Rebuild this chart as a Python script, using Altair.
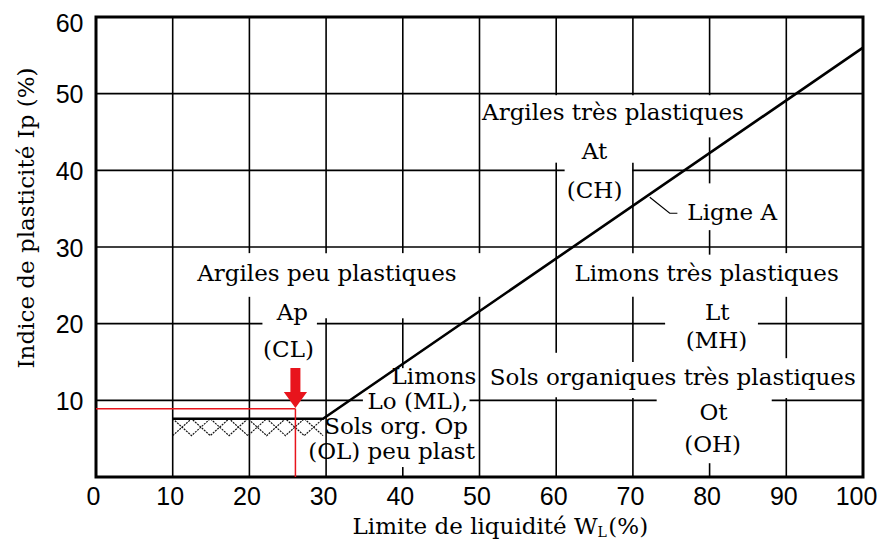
import altair as alt
import pandas as pd

# ---------------- data ----------------
# Ligne A : plateau then slope
lineA_wl = [10.0, 29.6, 100.0]
lineA_ip = [7.6, 7.6, 56.0]

# hatched band under the plateau
hatch_wl = [10.0, 29.6]
hatch_ip = [5.4, 7.6]
hatch_count = 8

# red sample point and arrow
sample_wl = [26.0]
sample_ip = [8.9]
arrow_ip = [11.6]

# leader line to the "Ligne A" label
leader_wl = [72.2, 74.8, 75.8]
leader_ip = [36.5, 34.4, 34.4]

# centred zone labels
center_text = ["Argiles très plastiques", "At", "(CH)",
               "Argiles peu plastiques", "Ap", "(CL)",
               "Limons très plastiques", "Lt", "(MH)",
               "Sols organiques très plastiques", "Ot", "(OH)"]
center_wl = [67.4, 65.0, 65.0, 30.1, 25.6, 25.1, 79.6, 81.0, 80.9, 75.2, 80.5, 80.4]
center_ip = [47.5, 42.4, 37.3, 26.5, 21.4, 16.6, 26.5, 21.4, 17.7, 12.9, 8.3, 4.2]

# right-aligned labels (low plasticity silts)
right_text = ["Limons", "Lo (ML),", "Sols org. Op", "(OL) peu plast"]
right_wl = [49.6, 48.5, 48.5, 49.4]
right_ip = [13.0, 9.8, 6.5, 3.3]

# left-aligned label
left_text = ["Ligne A"]
left_wl = [77.1]
left_ip = [34.4]

# grid segments: vertical (wl, ip_from, ip_to) and horizontal (ip, wl_from, wl_to)
v_grid = [(10, 0, 60),
          (20, 29.2, 60), (20, 0, 23.5),
          (30, 29.2, 60), (30, 0, 20.7),
          (40, 29.2, 60), (40, 14.2, 20.7), (40, 0, 1.3),
          (50, 29.2, 60), (50, 0, 23.5),
          (60, 49.8, 60), (60, 16.2, 41.0), (60, 0, 10.4),
          (70, 49.8, 60), (70, 29.2, 41.0), (70, 15.0, 23.5), (70, 0, 10.3),
          (80, 49.8, 60), (80, 38.3, 44.3), (80, 29.0, 32.2), (80, 0, 1.8),
          (90, 29.2, 60), (90, 15.5, 23.5), (90, 0, 10.3)]
h_grid = [(50, 0, 100),
          (40, 0, 61.1), (40, 69.9, 100),
          (30, 0, 100),
          (20, 0, 21.7), (20, 28.8, 74.2), (20, 86.3, 100),
          (10, 0, 34.8), (10, 48.7, 73.1), (10, 88.1, 100)]

x_ticks = list(range(0, 101, 10))
y_ticks = list(range(10, 61, 10))

# axis titles (x title has a subscript L)
xtitle_main = "Limite de liquidité W"
xtitle_sub = "L"
xtitle_end = "(%)"
ytitle = "Indice de plasticité Ip (%)"

# ---------------- tables ----------------
grid_df = pd.DataFrame(
    [dict(x1=v, x2=v, y1=a, y2=b) for v, a, b in v_grid] +
    [dict(x1=a, x2=b, y1=v, y2=v) for v, a, b in h_grid])

lineA_df = pd.DataFrame(dict(wl=lineA_wl, ip=lineA_ip, o=range(len(lineA_wl))))
leader_df = pd.DataFrame(dict(wl=leader_wl, ip=leader_ip, o=range(len(leader_wl))))

step = (hatch_wl[1] - hatch_wl[0]) / hatch_count
hrows = []
for k in range(hatch_count + 1):
    xk = hatch_wl[0] + k * step
    hrows.append(dict(wl=xk, ip=hatch_ip[1] if k % 2 == 0 else hatch_ip[0], g="a", o=k))
    hrows.append(dict(wl=xk, ip=hatch_ip[0] if k % 2 == 0 else hatch_ip[1], g="b", o=k))
hatch_df = pd.DataFrame(hrows)

red_df = pd.DataFrame([
    dict(x1=0.0, x2=sample_wl[0], y1=sample_ip[0], y2=sample_ip[0]),
    dict(x1=sample_wl[0], x2=sample_wl[0], y1=0.0, y2=sample_ip[0]),
])
arrow_df = pd.DataFrame(dict(wl=sample_wl, ip=arrow_ip))

center_df = pd.DataFrame(dict(t=center_text, wl=center_wl, ip=center_ip))
right_df = pd.DataFrame(dict(t=right_text, wl=right_wl, ip=right_ip))
left_df = pd.DataFrame(dict(t=left_text, wl=left_wl, ip=left_ip))
xt_main_df = pd.DataFrame(dict(t=[xtitle_main], wl=[65.4]))
xt_sub_df = pd.DataFrame(dict(t=[xtitle_sub], wl=[65.4]))
xt_end_df = pd.DataFrame(dict(t=[xtitle_end], wl=[66.8]))
yt_df = pd.DataFrame(dict(t=[ytitle]))

# ---------------- styling helpers ----------------
SERIF = "DejaVu Serif"
NUM = "Liberation Sans"
RED = "#e8141c"
XS = alt.Scale(domain=[0, 100], nice=False, zero=False)
YS = alt.Scale(domain=[0, 60], nice=False, zero=False)

AX_X = alt.Axis(values=x_ticks, grid=False, ticks=False, domain=False, title=None,
                labelFont=NUM, labelFontSize=25, labelColor="black", labelPadding=7,
                labelOffset={"condition": {"test": "datum.value == 100", "value": -7},
                             "value": -3},
                labelFlush=False, labelOverlap=False)
AX_Y = alt.Axis(values=y_ticks, grid=False, ticks=False, domain=False, title=None,
                labelFont=NUM, labelFontSize=25, labelColor="black", labelPadding=13,
                labelOffset={"condition": {"test": "datum.value == 60", "value": 6},
                             "value": 1},
                labelFlush=False, labelOverlap=False)


def X(f):
    return alt.X(f, type="quantitative", scale=XS, axis=AX_X)


def Y(f):
    return alt.Y(f, type="quantitative", scale=YS, axis=AX_Y)


grid = alt.Chart(grid_df).mark_rule(color="black", strokeWidth=1.6).encode(
    x=X("x1"), x2="x2", y=Y("y1"), y2="y2")

hatch = alt.Chart(hatch_df).mark_line(color="#111111", strokeWidth=1.2,
                                      strokeDash=[2, 1]).encode(
    x=X("wl"), y=Y("ip"), detail="g:N", order="o:Q")

lineA = alt.Chart(lineA_df).mark_line(color="black", strokeWidth=2.6).encode(
    x=X("wl"), y=Y("ip"), order="o:Q")

leader = alt.Chart(leader_df).mark_line(color="black", strokeWidth=1.2).encode(
    x=X("wl"), y=Y("ip"), order="o:Q")

red = alt.Chart(red_df).mark_rule(color=RED, strokeWidth=1.5).encode(
    x=X("x1"), x2="x2", y=Y("y1"), y2="y2")

arrow_path = "M-0.25,-1L0.25,-1L0.25,0.2L0.58,0.2L0,1L-0.58,0.2L-0.25,0.2Z"
arrow = alt.Chart(arrow_df).mark_point(shape=arrow_path, filled=True, color=RED,
                                       opacity=1, size=1600, strokeWidth=0).encode(
    x=X("wl"), y=Y("ip"))

txt_center = alt.Chart(center_df).mark_text(font=SERIF, fontSize=23, color="black",
                                            align="center", baseline="middle").encode(
    x=X("wl"), y=Y("ip"), text="t:N")
txt_right = alt.Chart(right_df).mark_text(font=SERIF, fontSize=23, color="black",
                                          align="right", baseline="middle").encode(
    x=X("wl"), y=Y("ip"), text="t:N")
txt_left = alt.Chart(left_df).mark_text(font=SERIF, fontSize=23, color="black",
                                        align="left", baseline="middle").encode(
    x=X("wl"), y=Y("ip"), text="t:N")

xt_main = alt.Chart(xt_main_df).mark_text(
    font=SERIF, fontSize=23, color="black", align="right", baseline="alphabetic").encode(
    x=X("wl"), y=alt.value(517), text="t:N")
xt_sub = alt.Chart(xt_sub_df).mark_text(
    font=SERIF, fontSize=14, color="black", align="left", baseline="alphabetic").encode(
    x=X("wl"), y=alt.value(520), text="t:N")
xt_end = alt.Chart(xt_end_df).mark_text(
    font=SERIF, fontSize=23, color="black", align="left", baseline="alphabetic").encode(
    x=X("wl"), y=alt.value(517), text="t:N")

yt = alt.Chart(yt_df).mark_text(
    font=SERIF, fontSize=23, color="black", align="center", baseline="middle",
    angle=270).encode(x=alt.value(-69), y=alt.value(201), text="t:N")

chart = alt.layer(grid, hatch, lineA, leader, red, arrow,
                  txt_center, txt_right, txt_left, xt_main, xt_sub, xt_end, yt).properties(
    width=767, height=460,
    autosize=alt.AutoSizeParams(type="none"),
    padding={"left": 88, "top": 9, "right": 14, "bottom": 64},
    background="white",
).configure_view(stroke="black", strokeWidth=3)

chart.save("out.html", embed_options={"renderer": "svg", "actions": False})
